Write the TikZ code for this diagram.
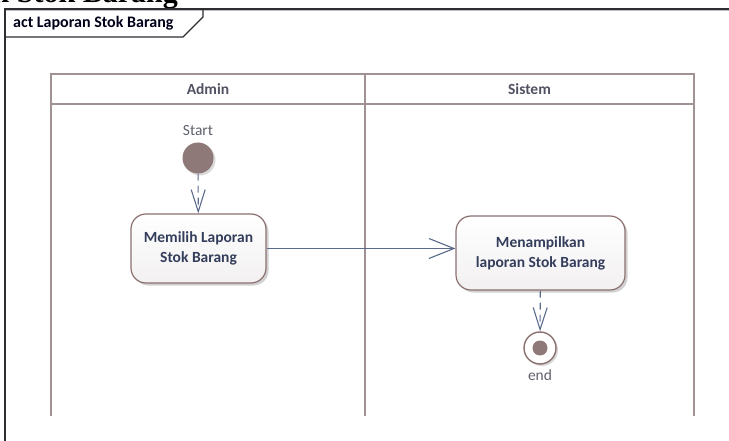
\documentclass[tikz,border=0pt]{standalone}
\usepackage{fontspec}
\setmainfont{Carlito}
\newfontfamily\headserif{Liberation Serif}
\usetikzlibrary{arrows.meta,shadows}

\definecolor{frameline}{RGB}{45,45,50}
\definecolor{laneline}{RGB}{160,146,146}
\definecolor{lanetext}{RGB}{80,82,98}
\definecolor{actiontext}{RGB}{52,62,92}
\definecolor{actionborder}{RGB}{140,112,112}
\definecolor{actionfill}{RGB}{242,240,240}
\definecolor{flowline}{RGB}{92,106,140}
\definecolor{nodefill}{RGB}{142,120,120}
\definecolor{labelgray}{RGB}{96,98,108}

\begin{document}
\begin{tikzpicture}[x=1pt,y=-1pt,
  framestroke/.style={draw=frameline, line width=1.2pt},
  lane/.style={draw=laneline, line width=2.4pt},
  lanetitle/.style={font=\bfseries\fontsize{15.5}{18}\selectfont, text=lanetext},
  smalllabel/.style={font=\fontsize{15.5}{18}\selectfont, text=labelgray},
  action/.style={draw=actionborder, line width=1.2pt, rounded corners=15pt,
    top color=white, bottom color=actionfill, align=center,
    font=\bfseries\fontsize{15.5}{20}\selectfont, text=actiontext,
    drop shadow={shadow xshift=2.5pt, shadow yshift=-2.5pt, fill=black, opacity=0.18}},
  flow/.style={draw=flowline, line width=1.1pt,
    -{Straight Barb[length=22pt, width=14pt, line width=1.1pt]}},
  bigflow/.style={draw=flowline, line width=1.1pt,
    -{Straight Barb[length=25pt, width=20pt, line width=1.1pt]}},
  dashflow/.style={flow, dash pattern=on 7pt off 5pt}
]
\useasboundingbox (0,0) rectangle (729,441);

% section heading running off the top edge
\node[anchor=base east, inner sep=0pt, font=\headserif\bfseries\fontsize{30}{30}\selectfont]
  (heading) at (178,2.5) {n Stok Barang};

% diagram frame with its name tab
\draw[draw=black!25, line width=1pt] (6,11) -- (729,11);
\draw[framestroke] (5,441) -- (5,9) -- (729,9);
\draw[framestroke] (203,9) -- (203,17) -- (183,37) -- (5,37);
\node[anchor=west, inner sep=0pt, font=\bfseries\fontsize{16}{18}\selectfont, text=black!90!blue]
  (frametitle) at (13,23.5) {act Laporan Stok Barang};

% swimlanes
\draw[lane] (51,416) -- (51,74) -- (694,74) -- (694,416);
\draw[lane] (51,104) -- (694,104);
\draw[lane] (365,74) -- (365,416);
\node[lanetitle] (adminhead) at (208,89) {Admin};
\node[lanetitle] (sistemhead) at (529.5,89) {Sistem};

% initial node
\node[circle, fill=nodefill, minimum size=31pt, inner sep=0pt,
  drop shadow={shadow xshift=2pt, shadow yshift=-2pt, fill=black, opacity=0.15}]
  (start) at (198,158) {};
\node[smalllabel] (startlabel) at (198,131) {Start};

% actions
\node[action, minimum width=135pt, minimum height=69pt] (memilih) at (198.5,248.5)
  {Memilih Laporan\\Stok Barang};
\node[action, minimum width=169pt, minimum height=74pt] (menampilkan) at (540.5,253)
  {Menampilkan\\laporan Stok Barang};

% final node
\node[circle, draw=actionborder, line width=1.4pt, fill=white, minimum size=32pt, inner sep=0pt,
  drop shadow={shadow xshift=2pt, shadow yshift=-2pt, fill=black, opacity=0.15}]
  (final) at (540,348) {};
\fill[nodefill] (final.center) circle (7.5pt);
\node[smalllabel] (endlabel) at (540,375) {end};

% control flows
\draw[dashflow] (start) -- (memilih);
\draw[bigflow] (memilih.east) -- (memilih.east -| menampilkan.west);
\draw[dashflow] (menampilkan) -- (final);
\end{tikzpicture}
\end{document}
